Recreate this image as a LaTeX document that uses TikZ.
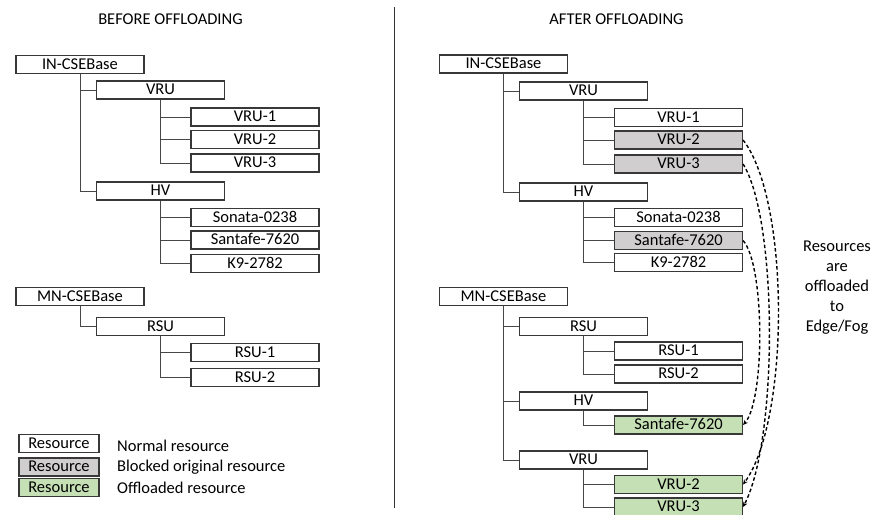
\documentclass[tikz,border=0pt]{standalone}
\usepackage{fontspec}
\setmainfont{Carlito}
\usetikzlibrary{arrows.meta}
\definecolor{blockgray}{HTML}{D0CECE}
\definecolor{offgreen}{HTML}{C5E0B4}
\begin{document}
\begin{tikzpicture}[x=1pt,y=-1pt,
  font=\fontsize{16.5}{20}\selectfont,
  res/.style={draw=black!78, line width=1.1pt, fill=white, rectangle, minimum width=128pt, minimum height=18pt, inner sep=0pt, text height=11pt, text depth=2pt},
  blocked/.style={res, fill=blockgray},
  offl/.style={res, fill=offgreen},
  legbox/.style={res, minimum width=80pt},
  link/.style={draw=black!72, line width=1pt},
  move/.style={draw=black, line width=1.4pt, dash pattern=on 3.5pt off 2.5pt, -{Stealth[length=5pt,width=4.5pt]}},
]
\useasboundingbox (0,0) rectangle (872,514);

% titles
\node (tBefore) at (170.5,19) {BEFORE OFFLOADING};
\node (tAfter) at (616.5,19) {AFTER OFFLOADING};

% divider
\coordinate (dTop) at (394.5,7);
\coordinate (dBot) at (394.5,508);
\draw[draw=black!80, line width=1pt] (dTop) -- (dBot);

% ---------- left tree ----------
\node[res] (lIN) at (80,64.5) {IN-CSEBase};
\node[res] (lVRU) at (160.5,90) {VRU};
\node[res] (lVRU1) at (255,117) {VRU-1};
\node[res] (lVRU2) at (255,139.5) {VRU-2};
\node[res] (lVRU3) at (255,163) {VRU-3};
\node[res] (lHV) at (160.5,191) {HV};
\node[res] (lSon) at (255,217.5) {Sonata-0238};
\node[res] (lSan) at (255,240) {Santafe-7620};
\node[res] (lK9) at (255,263.5) {K9-2782};
\node[res] (lMN) at (80,296.5) {MN-CSEBase};
\node[res] (lRSU) at (160.5,326.5) {RSU};
\node[res] (lRSU1) at (255,352.5) {RSU-1};
\node[res] (lRSU2) at (255,377.5) {RSU-2};

\foreach \p/\c in {lIN/lVRU, lIN/lHV, lVRU/lVRU1, lVRU/lVRU2, lVRU/lVRU3,
                   lHV/lSon, lHV/lSan, lHV/lK9, lMN/lRSU, lRSU/lRSU1, lRSU/lRSU2}
  \draw[link] (\p.south) |- (\c.west);

% legend
\node[legbox] (lg1) at (59,443.5) {Resource};
\node[legbox, fill=blockgray] (lg2) at (59,467) {Resource};
\node[legbox, fill=offgreen] (lg3) at (59,487.5) {Resource};
\node[anchor=west, inner sep=0pt] (lt1) at (117,446) {Normal resource};
\node[anchor=west, inner sep=0pt] (lt2) at (117,467) {Blocked original resource};
\node[anchor=west, inner sep=0pt] (lt3) at (117,487.5) {Offloaded resource};

% ---------- right tree ----------
\node[res] (rIN) at (503.5,64) {IN-CSEBase};
\node[res] (rVRU) at (583.5,91) {VRU};
\node[res] (rVRU1) at (678.5,117.5) {VRU-1};
\node[blocked] (rVRU2) at (678.5,140) {VRU-2};
\node[blocked] (rVRU3) at (678.5,164) {VRU-3};
\node[res] (rHV) at (583.5,192) {HV};
\node[res] (rSon) at (678.5,217.5) {Sonata-0238};
\node[blocked] (rSan) at (678.5,240.5) {Santafe-7620};
\node[res] (rK9) at (678.5,262.5) {K9-2782};
\node[res] (rMN) at (503.5,296.5) {MN-CSEBase};
\node[res] (rRSU) at (583.5,326.5) {RSU};
\node[res] (rRSU1) at (678.5,351) {RSU-1};
\node[res] (rRSU2) at (678.5,374) {RSU-2};
\node[res] (rHVb) at (583.5,401) {HV};
\node[offl] (rSanb) at (678.5,425) {Santafe-7620};
\node[res] (rVRUb) at (583.5,460) {VRU};
\node[offl] (rVRU2b) at (678.5,484.5) {VRU-2};
\node[offl] (rVRU3b) at (678.5,507) {VRU-3};

\foreach \p/\c in {rIN/rVRU, rIN/rHV, rVRU/rVRU1, rVRU/rVRU2, rVRU/rVRU3,
                   rHV/rSon, rHV/rSan, rHV/rK9, rMN/rRSU, rMN/rHVb, rMN/rVRUb,
                   rRSU/rRSU1, rRSU/rRSU2, rHVb/rSanb, rVRUb/rVRU2b, rVRUb/rVRU3b}
  \draw[link] (\p.south) |- (\c.west);

% offloading arrows
\draw[move] (rVRU2.east) .. controls (790,200) and (790,420) .. (rVRU2b.east);
\draw[move] (rVRU3.east) .. controls (778,220) and (778,440) .. (rVRU3b.east);
\draw[move] (rSan.east) .. controls (765,265) and (765,400) .. (rSanb.east);

\node[align=center, inner sep=0pt] (note) at (837,288) {Resources\\are\\offloaded\\to\\Edge/Fog};
\end{tikzpicture}
\end{document}
